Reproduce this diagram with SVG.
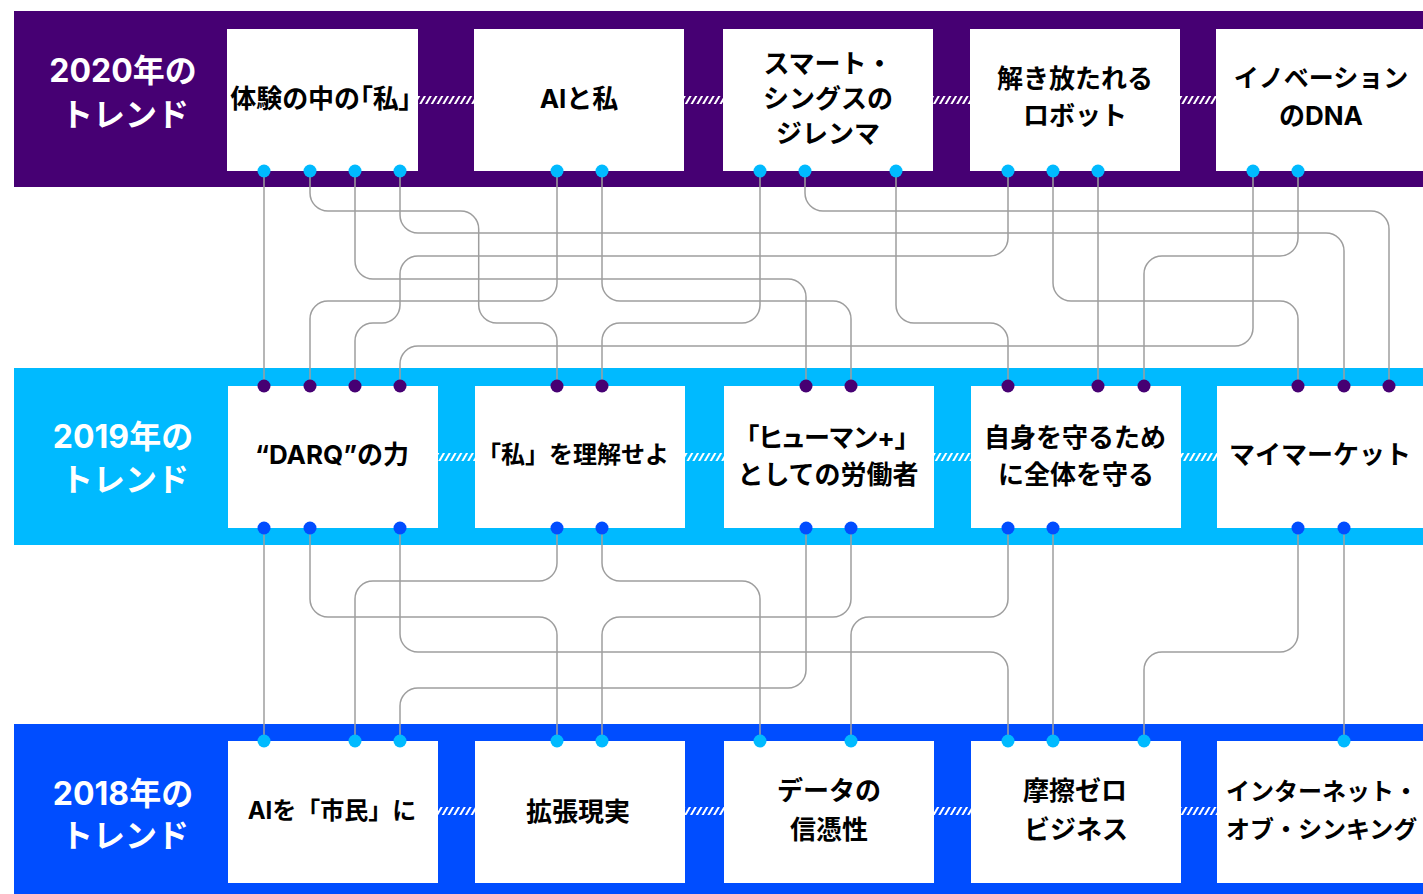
<svg xmlns="http://www.w3.org/2000/svg" width="1423" height="894" viewBox="0 0 1423 894">
<defs>
<pattern id="hatch" width="5" height="10" patternUnits="userSpaceOnUse" patternTransform="rotate(30)"><rect width="2" height="10" fill="#fff"/></pattern>
</defs>
<style>
.b1{fill:#460073}.b2{fill:#00baff}.b3{fill:#004dff}
.box{fill:#fff}
.h{fill:url(#hatch)}
.t{font-family:"Inter","Noto Sans CJK JP",sans-serif;font-weight:700;font-size:26px;fill:#000;text-anchor:middle;dominant-baseline:central}
.p{font-feature-settings:"palt"}
.s24{font-size:24px}
.s25{font-size:25px}
.st{text-anchor:start}
.yr{font-family:"Inter","Noto Sans CJK JP",sans-serif;font-weight:700;font-size:32px;fill:#fff;text-anchor:middle;dominant-baseline:central}
.c{fill:none;stroke:#9e9e9e;stroke-width:1.5}
.dc{fill:#00baff}.dp{fill:#460073}.db{fill:#004dff}
</style>

<g id="bands">
<rect class="b1" x="14" y="11" width="1409" height="176"/>
<rect class="b2" x="14" y="368" width="1409" height="177"/>
<rect class="b3" x="14" y="724" width="1409" height="170"/>
</g>

<g id="hatches">
<rect class="h" x="418" y="96" width="56" height="8"/>
<rect class="h" x="684" y="96" width="39" height="8"/>
<rect class="h" x="933" y="96" width="37" height="8"/>
<rect class="h" x="1180" y="96" width="36" height="8"/>
<rect class="h" x="438" y="453" width="37" height="8"/>
<rect class="h" x="685" y="453" width="39" height="8"/>
<rect class="h" x="934" y="453" width="37" height="8"/>
<rect class="h" x="1181" y="453" width="36" height="8"/>
<rect class="h" x="438" y="807" width="37" height="8"/>
<rect class="h" x="685" y="807" width="39" height="8"/>
<rect class="h" x="934" y="807" width="37" height="8"/>
<rect class="h" x="1181" y="807" width="36" height="8"/>
</g>

<g id="label-2020"><text class="yr" x="123" y="70">2020年の</text><text class="yr" x="125" y="114">トレンド</text></g>
<g id="label-2019"><text class="yr" x="123" y="436">2019年の</text><text class="yr" x="125" y="479">トレンド</text></g>
<g id="label-2018"><text class="yr" x="123" y="793">2018年の</text><text class="yr" x="125" y="835">トレンド</text></g>

<g id="n2020-1"><rect class="box" x="227" y="29" width="191" height="142"/><text class="t p" x="321" y="98">体験の中の「私」</text></g>
<g id="n2020-2"><rect class="box" x="474" y="29" width="210" height="142"/><text class="t" x="579" y="98">AIと私</text></g>
<g id="n2020-3"><rect class="box" x="723" y="29" width="210" height="142"/><text class="t" x="828" y="63">スマート・</text><text class="t" x="828" y="98">シングスの</text><text class="t" x="828" y="133">ジレンマ</text></g>
<g id="n2020-4"><rect class="box" x="970" y="29" width="210" height="142"/><text class="t" x="1075" y="78">解き放たれる</text><text class="t" x="1075" y="115">ロボット</text></g>
<g id="n2020-5"><rect class="box" x="1216" y="29" width="210" height="142"/><text class="t s25" x="1321" y="78">イノベーション</text><text class="t" x="1321" y="115">のDNA</text></g>

<g id="n2019-1"><rect class="box" x="228" y="386" width="210" height="142"/><text class="t" x="332" y="454">“DARQ”の力</text></g>
<g id="n2019-2"><rect class="box" x="475" y="386" width="210" height="142"/><text class="t s24" x="573" y="454">「私」を理解せよ</text></g>
<g id="n2019-3"><rect class="box" x="724" y="386" width="210" height="142"/><text class="t p" x="827" y="437">「ヒューマン+」</text><text class="t" x="828" y="474">としての労働者</text></g>
<g id="n2019-4"><rect class="box" x="971" y="386" width="210" height="142"/><text class="t" x="1075" y="437">自身を守るため</text><text class="t" x="1076" y="474">に全体を守る</text></g>
<g id="n2019-5"><rect class="box" x="1217" y="386" width="210" height="142"/><text class="t" x="1320" y="454">マイマーケット</text></g>

<g id="n2018-1"><rect class="box" x="228" y="741" width="210" height="142"/><text class="t s24" x="332" y="810">AIを「市民」に</text></g>
<g id="n2018-2"><rect class="box" x="475" y="741" width="210" height="142"/><text class="t" x="578" y="811">拡張現実</text></g>
<g id="n2018-3"><rect class="box" x="724" y="741" width="210" height="142"/><text class="t" x="829" y="790">データの</text><text class="t" x="829" y="829">信憑性</text></g>
<g id="n2018-4"><rect class="box" x="971" y="741" width="210" height="142"/><text class="t" x="1075" y="790">摩擦ゼロ</text><text class="t" x="1076" y="829">ビジネス</text></g>
<g id="n2018-5"><rect class="box" x="1217" y="741" width="210" height="142"/><text class="t s24 st" x="1226" y="791">インターネット・</text><text class="t s24 st" x="1226" y="829">オブ・シンキング</text></g>

<g id="connectors">
<path class="c" d="M264 171V386"/>
<path class="c" d="M310 171V193A18 18 0 0 0 328 211H460.7A18 18 0 0 1 478.7 229V305A18 18 0 0 0 496.7 323H539A18 18 0 0 1 557 341V386"/>
<path class="c" d="M355 171V261A18 18 0 0 0 373 279H788A18 18 0 0 1 806 297V386"/>
<path class="c" d="M400 171V215A18 18 0 0 0 418 233H1326A18 18 0 0 1 1344 251V386"/>
<path class="c" d="M557 171V283A18 18 0 0 1 539 301H328A18 18 0 0 0 310 319V386"/>
<path class="c" d="M602 171V283A18 18 0 0 0 620 301H833A18 18 0 0 1 851 319V386"/>
<path class="c" d="M760 171V305A18 18 0 0 1 742 323H620A18 18 0 0 0 602 341V386"/>
<path class="c" d="M805 171V193A18 18 0 0 0 823 211H1371A18 18 0 0 1 1389 229V386"/>
<path class="c" d="M896 171V305A18 18 0 0 0 914 323H990A18 18 0 0 1 1008 341V386"/>
<path class="c" d="M1008 171V238A18 18 0 0 1 990 256H418A18 18 0 0 0 400 274V305A18 18 0 0 1 382 323H373A18 18 0 0 0 355 341V386"/>
<path class="c" d="M1053 171V283A18 18 0 0 0 1071 301H1280A18 18 0 0 1 1298 319V386"/>
<path class="c" d="M1098 171V386"/>
<path class="c" d="M1253 171V328A18 18 0 0 1 1235 346H418A18 18 0 0 0 400 364V386"/>
<path class="c" d="M1298 171V238A18 18 0 0 1 1280 256H1162A18 18 0 0 0 1144 274V386"/>

<path class="c" d="M264 528V741"/>
<path class="c" d="M310 528V599A18 18 0 0 0 328 617H539A18 18 0 0 1 557 635V741"/>
<path class="c" d="M400 528V634A18 18 0 0 0 418 652H990A18 18 0 0 1 1008 670V741"/>
<path class="c" d="M557 528V563A18 18 0 0 1 539 581H373A18 18 0 0 0 355 599V741"/>
<path class="c" d="M602 528V563A18 18 0 0 0 620 581H742A18 18 0 0 1 760 599V741"/>
<path class="c" d="M806 528V670A18 18 0 0 1 788 688H418A18 18 0 0 0 400 706V741"/>
<path class="c" d="M851 528V599A18 18 0 0 1 833 617H620A18 18 0 0 0 602 635V741"/>
<path class="c" d="M1008 528V599A18 18 0 0 1 990 617H869A18 18 0 0 0 851 635V741"/>
<path class="c" d="M1053 528V741"/>
<path class="c" d="M1298 528V634A18 18 0 0 1 1280 652H1162A18 18 0 0 0 1144 670V741"/>
<path class="c" d="M1344 528V741"/>
</g>

<g id="ports">
<g class="dc">
<circle cx="264" cy="171" r="6.5"/><circle cx="310" cy="171" r="6.5"/><circle cx="355" cy="171" r="6.5"/><circle cx="400" cy="171" r="6.5"/>
<circle cx="557" cy="171" r="6.5"/><circle cx="602" cy="171" r="6.5"/>
<circle cx="760" cy="171" r="6.5"/><circle cx="805" cy="171" r="6.5"/><circle cx="896" cy="171" r="6.5"/>
<circle cx="1008" cy="171" r="6.5"/><circle cx="1053" cy="171" r="6.5"/><circle cx="1098" cy="171" r="6.5"/>
<circle cx="1253" cy="171" r="6.5"/><circle cx="1298" cy="171" r="6.5"/>
</g>
<g class="dp">
<circle cx="264" cy="386" r="6.5"/><circle cx="310" cy="386" r="6.5"/><circle cx="355" cy="386" r="6.5"/><circle cx="400" cy="386" r="6.5"/>
<circle cx="557" cy="386" r="6.5"/><circle cx="602" cy="386" r="6.5"/>
<circle cx="806" cy="386" r="6.5"/><circle cx="851" cy="386" r="6.5"/>
<circle cx="1008" cy="386" r="6.5"/><circle cx="1098" cy="386" r="6.5"/><circle cx="1144" cy="386" r="6.5"/>
<circle cx="1298" cy="386" r="6.5"/><circle cx="1344" cy="386" r="6.5"/><circle cx="1389" cy="386" r="6.5"/>
</g>
<g class="db">
<circle cx="264" cy="528" r="6.5"/><circle cx="310" cy="528" r="6.5"/><circle cx="400" cy="528" r="6.5"/>
<circle cx="557" cy="528" r="6.5"/><circle cx="602" cy="528" r="6.5"/>
<circle cx="806" cy="528" r="6.5"/><circle cx="851" cy="528" r="6.5"/>
<circle cx="1008" cy="528" r="6.5"/><circle cx="1053" cy="528" r="6.5"/>
<circle cx="1298" cy="528" r="6.5"/><circle cx="1344" cy="528" r="6.5"/>
</g>
<g class="dc">
<circle cx="264" cy="741" r="6.5"/><circle cx="355" cy="741" r="6.5"/><circle cx="400" cy="741" r="6.5"/>
<circle cx="557" cy="741" r="6.5"/><circle cx="602" cy="741" r="6.5"/>
<circle cx="760" cy="741" r="6.5"/><circle cx="851" cy="741" r="6.5"/>
<circle cx="1008" cy="741" r="6.5"/><circle cx="1053" cy="741" r="6.5"/><circle cx="1144" cy="741" r="6.5"/>
<circle cx="1344" cy="741" r="6.5"/>
</g>
</g>
</svg>
